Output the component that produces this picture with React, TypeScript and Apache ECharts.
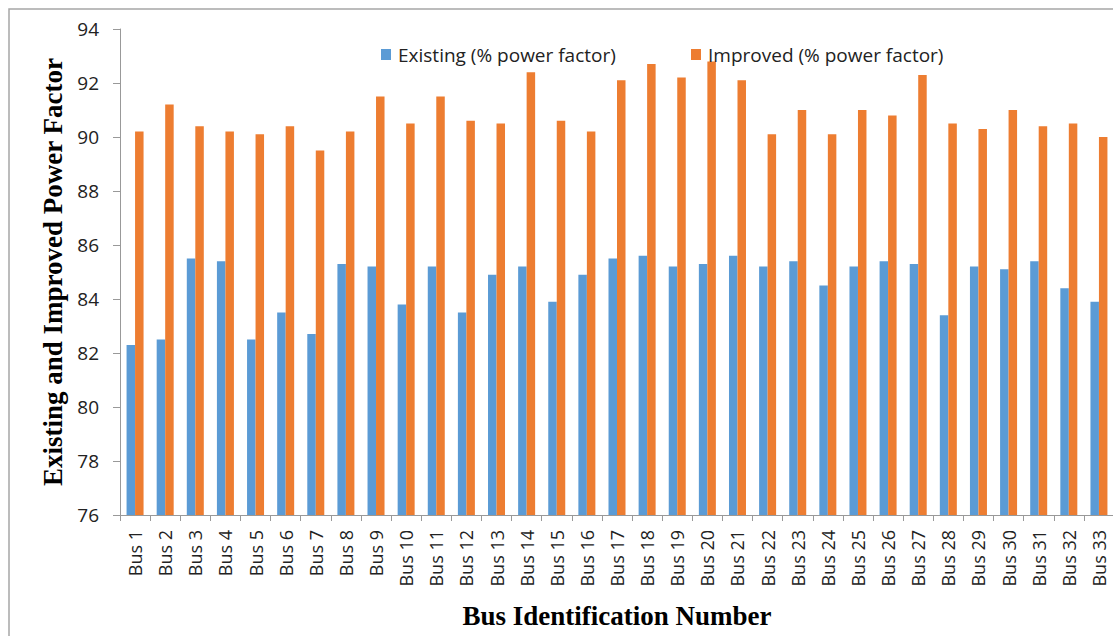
import React, { useEffect, useRef } from "react";
import * as echarts from "echarts";

const categories: string[] = [
  "Bus 1", "Bus 2", "Bus 3", "Bus 4", "Bus 5", "Bus 6", "Bus 7", "Bus 8", "Bus 9", "Bus 10",
  "Bus 11", "Bus 12", "Bus 13", "Bus 14", "Bus 15", "Bus 16", "Bus 17", "Bus 18", "Bus 19", "Bus 20",
  "Bus 21", "Bus 22", "Bus 23", "Bus 24", "Bus 25", "Bus 26", "Bus 27", "Bus 28", "Bus 29", "Bus 30",
  "Bus 31", "Bus 32", "Bus 33",
];

const existing: number[] = [
  82.3, 82.5, 85.5, 85.4, 82.5, 83.5, 82.7, 85.3, 85.2, 83.8,
  85.2, 83.5, 84.9, 85.2, 83.9, 84.9, 85.5, 85.6, 85.2, 85.3,
  85.6, 85.2, 85.4, 84.5, 85.2, 85.4, 85.3, 83.4, 85.2, 85.1,
  85.4, 84.4, 83.9,
];

const improved: number[] = [
  90.2, 91.2, 90.4, 90.2, 90.1, 90.4, 89.5, 90.2, 91.5, 90.5,
  91.5, 90.6, 90.5, 92.4, 90.6, 90.2, 92.1, 92.7, 92.2, 92.8,
  92.1, 90.1, 91.0, 90.1, 91.0, 90.8, 92.3, 90.5, 90.3, 91.0,
  90.4, 90.5, 90.0,
];

const seriesNames: string[] = ["Existing (% power factor)", "Improved (% power factor)"];
const yTitle = "Existing and Improved Power Factor";
const xTitle = "Bus Identification Number";

export default function App() {
  const ref = useRef<HTMLDivElement>(null);

  useEffect(() => {
    if (!ref.current) return;
    const chart = echarts.init(ref.current, undefined, { renderer: "svg" });
    const labelFont = "'Open Sans', sans-serif";
    const titleFont = "'Liberation Serif', 'Times New Roman', serif";
    chart.setOption({
      animation: false,
      backgroundColor: "#ffffff",
      color: ["#5B9BD5", "#ED7D31"],
      graphic: [
        {
          type: "rect",
          shape: { x: 9, y: 9, width: 1400, height: 800 },
          style: { fill: "none", stroke: "#a6a6a6", lineWidth: 1.5 },
          silent: true,
          z: -10,
        },
      ],
      legend: [
        {
          data: [seriesNames[0]],
          left: 376,
          top: 40,
          itemWidth: 10,
          itemHeight: 11,
          icon: "rect",
          textStyle: { fontFamily: labelFont, fontSize: 19, color: "#222", padding: [0, 0, 0, 2] },
        },
        {
          data: [seriesNames[1]],
          left: 686,
          top: 40,
          itemWidth: 10,
          itemHeight: 11,
          icon: "rect",
          textStyle: { fontFamily: labelFont, fontSize: 19, color: "#222", padding: [0, 0, 0, 2] },
        },
      ],
      grid: { left: 120, top: 29, width: 994, height: 486, containLabel: false, outerBoundsMode: "none" },
      xAxis: {
        type: "category",
        data: categories,
        boundaryGap: true,
        name: xTitle,
        nameLocation: "middle",
        nameGap: 87,
        nameTextStyle: { fontFamily: titleFont, fontWeight: "bold", fontSize: 27, color: "#000" },
        axisLine: { lineStyle: { color: "#999", width: 1 } },
        axisTick: { show: true, length: 6, lineStyle: { color: "#999" } },
        axisLabel: {
          rotate: 90,
          interval: 0,
          margin: 15,
          fontFamily: labelFont,
          fontSize: 18,
          color: "#222",
        },
        splitLine: { show: false },
      },
      yAxis: {
        type: "value",
        min: 76,
        max: 94,
        interval: 2,
        name: yTitle,
        nameLocation: "middle",
        nameGap: 51,
        nameTextStyle: { fontFamily: titleFont, fontWeight: "bold", fontSize: 27, color: "#000" },
        axisLine: { show: true, lineStyle: { color: "#999", width: 1 } },
        axisTick: { show: true, length: 7, lineStyle: { color: "#999" } },
        axisLabel: { margin: 21, fontFamily: labelFont, fontSize: 19, color: "#222" },
        splitLine: { show: false },
      },
      series: [
        {
          name: seriesNames[0],
          type: "bar",
          data: existing,
          barWidth: 8.5,
          barGap: "0%",
          itemStyle: { color: "#5B9BD5" },
        },
        {
          name: seriesNames[1],
          type: "bar",
          data: improved,
          barWidth: 8.5,
          barGap: "0%",
          itemStyle: { color: "#ED7D31" },
        },
      ],
    });
    return () => chart.dispose();
  }, []);

  return (
    <div
      ref={ref}
      style={{ position: "absolute", left: 0, top: 0, width: 1113, height: 636 }}
    />
  );
}
